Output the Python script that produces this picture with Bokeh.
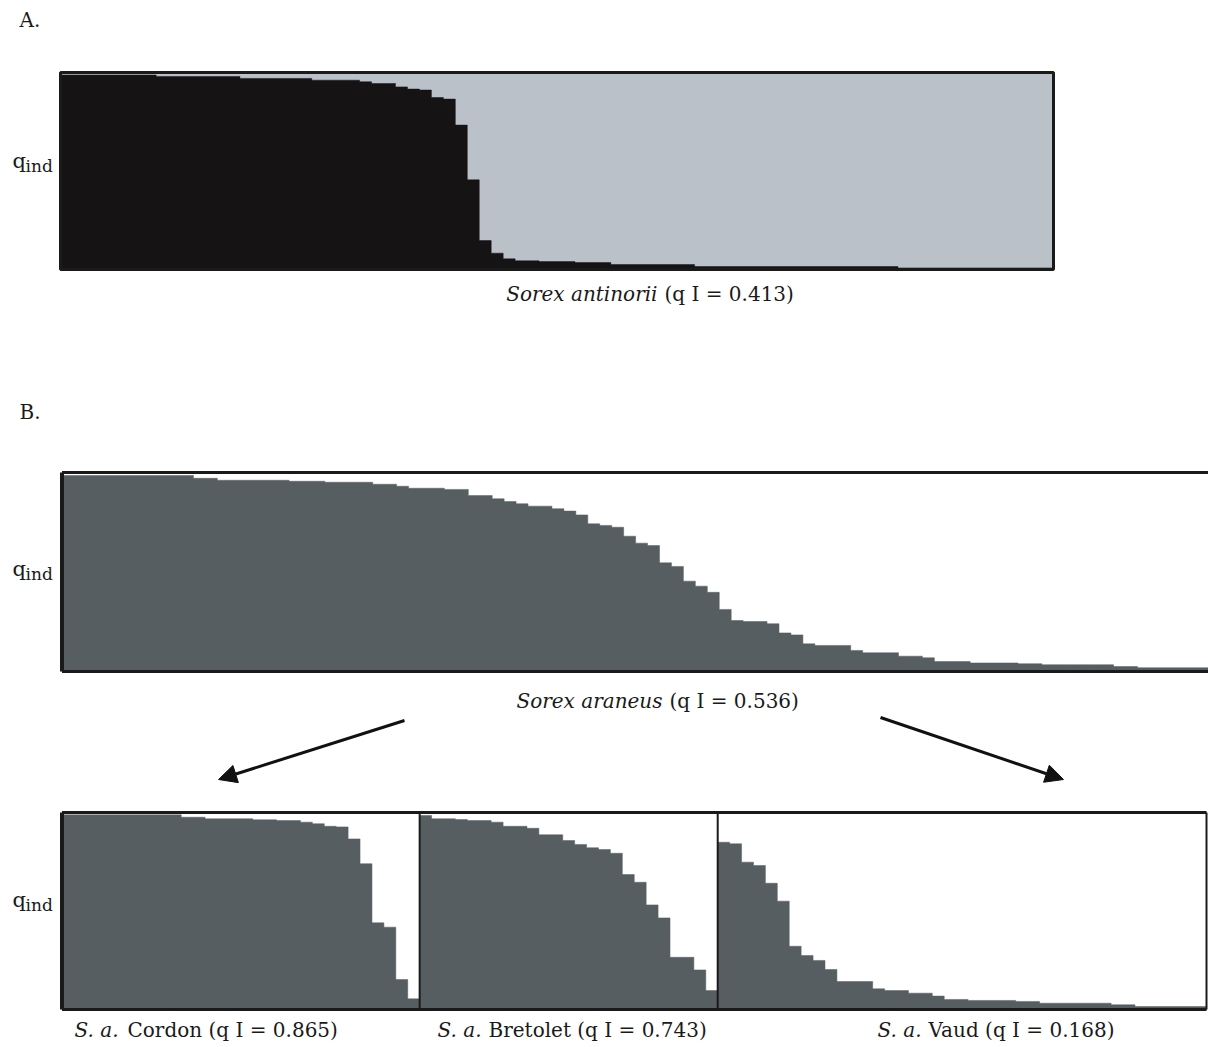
from bokeh.plotting import figure
from bokeh.models import Range1d, Arrow, NormalHead
from bokeh.embed import file_html
from bokeh.resources import INLINE
from bokeh.core.properties import value

# ---------------- data (individual membership q_ind, sorted) ----------------
antinorii_q = [0.987, 0.987, 0.987, 0.987, 0.987, 0.987, 0.987, 0.987,
               0.980, 0.980, 0.980, 0.980, 0.980, 0.980, 0.980,
               0.970, 0.970, 0.970, 0.970, 0.970, 0.970,
               0.961, 0.961, 0.961, 0.961, 0.953, 0.944, 0.944,
               0.927, 0.916, 0.911, 0.873, 0.865, 0.733, 0.455, 0.147, 0.083, 0.054,
               0.044, 0.044, 0.040, 0.040, 0.040, 0.035, 0.035, 0.035,
               0.025, 0.025, 0.025, 0.025, 0.025, 0.025, 0.025,
               0.015, 0.015, 0.015, 0.015, 0.015, 0.015, 0.015, 0.015, 0.015,
               0.015, 0.015, 0.015, 0.015, 0.015, 0.015, 0.015, 0.015,
               0.008, 0.008, 0.008, 0.008, 0.008, 0.008, 0.008, 0.008, 0.008,
               0.008, 0.008, 0.008, 0.008]

araneus_q = [0.985, 0.985, 0.985, 0.985, 0.985, 0.985, 0.985, 0.985, 0.985, 0.985, 0.985,
             0.971, 0.971, 0.961, 0.961, 0.961, 0.961, 0.961, 0.961,
             0.956, 0.956, 0.956, 0.951, 0.951, 0.951, 0.951, 0.941, 0.941, 0.931,
             0.921, 0.921, 0.921, 0.915, 0.915, 0.884, 0.884, 0.868, 0.854, 0.843,
             0.831, 0.831, 0.818, 0.806, 0.787, 0.742, 0.734, 0.725, 0.680, 0.645,
             0.633, 0.546, 0.528, 0.454, 0.429, 0.398, 0.312, 0.256, 0.251, 0.251,
             0.240, 0.194, 0.184, 0.139, 0.131, 0.131, 0.131, 0.106, 0.094, 0.094,
             0.094, 0.077, 0.077, 0.069, 0.050, 0.050, 0.050, 0.043, 0.043, 0.043,
             0.043, 0.039, 0.039, 0.034, 0.034, 0.034, 0.034, 0.034, 0.034,
             0.025, 0.025, 0.019, 0.019, 0.019, 0.019, 0.019, 0.019]

cordon_q = [0.988, 0.988, 0.988, 0.988, 0.988, 0.988, 0.988, 0.988, 0.988, 0.988,
            0.976, 0.976, 0.968, 0.968, 0.968, 0.968, 0.963, 0.963, 0.959, 0.959,
            0.951, 0.943, 0.930, 0.927, 0.866, 0.740, 0.440, 0.418, 0.152, 0.054]

bretolet_q = [0.985, 0.968, 0.968, 0.964, 0.959, 0.959, 0.951, 0.930, 0.930, 0.920,
              0.887, 0.887, 0.858, 0.838, 0.821, 0.812, 0.793, 0.685, 0.646, 0.531,
              0.465, 0.265, 0.265, 0.201, 0.096]

vaud_q = [0.849, 0.841, 0.748, 0.731, 0.641, 0.550, 0.321, 0.274, 0.249, 0.203,
          0.142, 0.142, 0.142, 0.105, 0.096, 0.096, 0.083, 0.083, 0.068, 0.051,
          0.051, 0.046, 0.046, 0.046, 0.046, 0.041, 0.041, 0.032, 0.032, 0.032,
          0.032, 0.032, 0.032, 0.024, 0.024, 0.015, 0.015, 0.015, 0.015, 0.015, 0.015]

species_names = ["Sorex antinorii", "Sorex araneus"]
species_qI = [0.413, 0.536]
subpop_names = ["Cordon", "Bretolet", "Vaud"]
subpop_qI = [0.865, 0.743, 0.168]
subpop_q = [cordon_q, bretolet_q, vaud_q]

# ---------------- styling ----------------
W, H = 1208, 1047
BLACK = "#161314"
LIGHT = "#bbc1c9"
DARK = "#575e61"
EDGE = "#1a1a1a"
FONT = value("DejaVu Serif")

p = figure(width=W, height=H, x_range=Range1d(0, W), y_range=Range1d(H, 0),
           output_backend="svg", toolbar_location=None, title=None,
           x_axis_location=None, y_axis_location=None, min_border=0,
           outline_line_color=None, background_fill_color="white",
           border_fill_color="white")
p.grid.visible = False


def panel_ranges(n, x0, x1, ytop, ybot):
    u = (x1 - x0) / n
    v = ybot - ytop
    return (Range1d(start=-x0 / u, end=(W - x0) / u),
            Range1d(start=-(H - ybot) / v, end=ybot / v))


def step_outline(q, offset=0):
    """Outline of the sorted bars (one unit wide per individual) as a closed polygon."""
    xs, ys = [], []
    for i, v in enumerate(q):
        xs += [offset + i, offset + i + 1]
        ys += [v, v]
    xs += [offset + len(q), offset]
    ys += [0, 0]
    return xs, ys


xa, ya = panel_ranges(len(antinorii_q), 60, 1053, 72, 269)
xb, yb = panel_ranges(len(araneus_q), 61.5, 1208.7, 472, 671)
n_sub = sum(len(q) for q in subpop_q)
xc, yc = panel_ranges(n_sub, 61.5, 1206, 812, 1009)
p.extra_x_ranges = {"xa": xa, "xb": xb, "xc": xc}
p.extra_y_ranges = {"ya": ya, "yb": yb, "yc": yc}

# ---------------- panel A ----------------
na = len(antinorii_q)
p.quad(left=0, right=na, bottom=0, top=1, fill_color=LIGHT, line_color=None,
       x_range_name="xa", y_range_name="ya")
ax, ay = step_outline(antinorii_q)
p.patch(ax, ay, fill_color=BLACK, line_color=BLACK, line_width=0.5,
        x_range_name="xa", y_range_name="ya")
p.quad(left=0, right=na, bottom=0, top=1, fill_color=None, line_color=EDGE, line_width=3,
       x_range_name="xa", y_range_name="ya")

# ---------------- panel B ----------------
nb = len(araneus_q)
bx, by = step_outline(araneus_q)
p.patch(bx, by, fill_color=DARK, line_color=DARK, line_width=0.5,
        x_range_name="xb", y_range_name="yb")
p.segment(x0=[0, 0, 0], y0=[0, 1, 0], x1=[0, nb, nb], y1=[1, 1, 0],
          line_color=EDGE, line_width=[4, 3, 3], x_range_name="xb", y_range_name="yb")

# ---------------- sub-populations ----------------
offset = 0
offsets = []
for q in subpop_q:
    offsets.append(offset)
    cx, cy = step_outline(q, offset)
    p.patch(cx, cy, fill_color=DARK, line_color=DARK, line_width=0.5,
            x_range_name="xc", y_range_name="yc")
    offset += len(q)
div_x = offsets[1:]
p.segment(x0=[0, 0, 0] + div_x + [n_sub], y0=[0, 1, 0] + [0] * len(div_x) + [0],
          x1=[0, n_sub, n_sub] + div_x + [n_sub], y1=[1, 1, 0] + [1] * len(div_x) + [1],
          line_color=EDGE, line_width=[4, 3, 3] + [2] * len(div_x) + [2],
          x_range_name="xc", y_range_name="yc")

# ---------------- texts ----------------
def txt(x, y, s, size="20px", style="normal", align="left", base="middle"):
    p.text(x=[x], y=[y], text=[s], text_font=FONT, text_font_size=size,
           text_font_style=style, text_align=align, text_baseline=base,
           text_color="#1a1a1a")

txt(19, 19, "A.", size="20px")
txt(19, 411, "B.", size="20px")

for yq in (160, 568, 899):
    txt(12, yq, "q", size="21px")
    txt(25, yq + 5, "ind", size="17px")

# species captions
txt(657, 293, species_names[0], style="italic", align="right")
txt(664, 293, "(q I = %.3f)" % species_qI[0])
txt(662, 700, species_names[1], style="italic", align="right")
txt(669, 700, "(q I = %.3f)" % species_qI[1])

# sub-population captions
cap_x = [(118, 127), (481, 488), (921, 928)]
for (xi, xn), name, qi in zip(cap_x, subpop_names, subpop_qI):
    txt(xi, 1029, "S. a.", style="italic", align="right")
    txt(xn, 1029, "%s (q I = %.3f)" % (name, qi))

# arrows
for xs, ys, xe, ye in [(404, 720, 218, 779), (880, 717, 1063, 779)]:
    p.add_layout(Arrow(end=NormalHead(size=18, fill_color="#111111", line_color="#111111"),
                       x_start=xs, y_start=ys, x_end=xe, y_end=ye,
                       line_width=3, line_color="#111111"))

open("out.html", "w").write(file_html(p, INLINE))
